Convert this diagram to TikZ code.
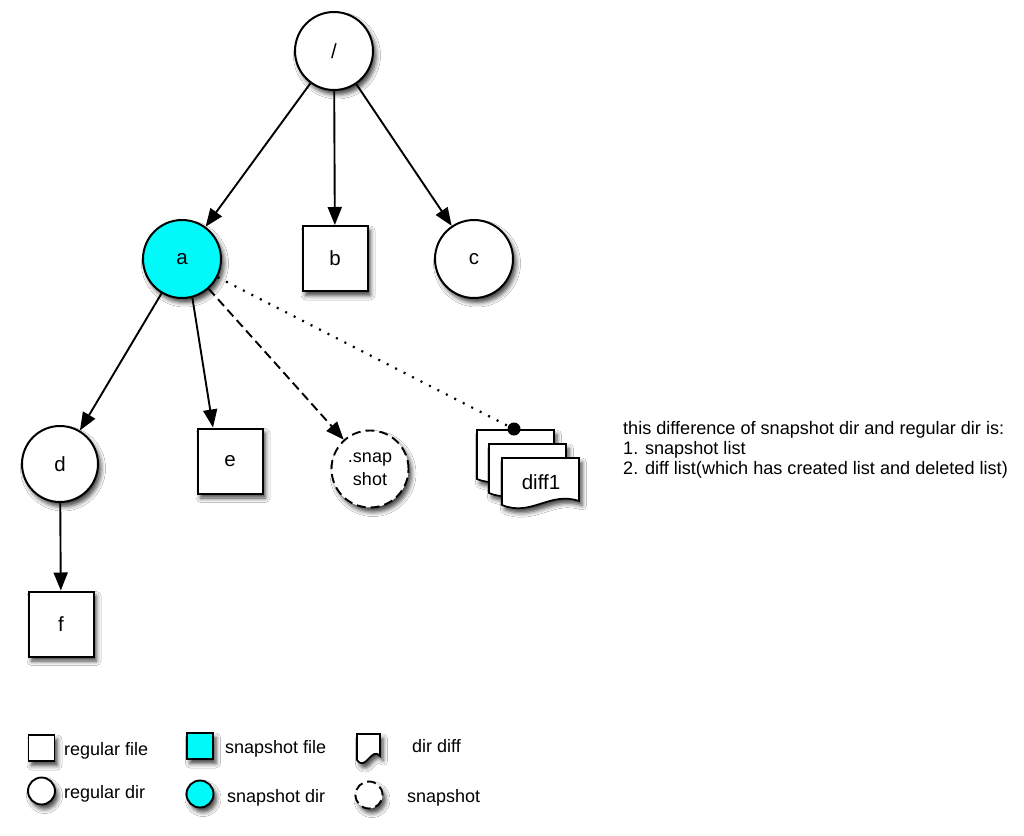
\documentclass[tikz,border=0pt]{standalone}
\usepackage{fontspec}
\setmainfont{Liberation Sans}
\usetikzlibrary{arrows.meta,shadows.blur,calc}
\definecolor{snapcyan}{RGB}{0,250,250}

% a sheet with a wavy lower edge: name, x, y (top left), width, height
\newcommand{\diffsheet}[5]{%
  \draw[sheet] (#2,#3) -- (#2+#4,#3) -- (#2+#4,#3+#5-4)
    .. controls (#2+0.62*#4,#3+#5-14) and (#2+0.38*#4,#3+#5+12) .. (#2,#3+#5) -- cycle;
  \coordinate (#1) at (#2+0.5*#4,#3+0.5*#5);}

\begin{document}
\begin{tikzpicture}[x=1pt,y=-1pt,
  dropsh/.style={blur shadow={shadow xshift=3pt,shadow yshift=-4.5pt,shadow blur radius=4.5pt,shadow opacity=75}},
  lbl/.style={font=\fontsize{20.5}{24}\selectfont},
  dirnode/.style={circle,draw,line width=2pt,fill=white,minimum size=78pt,inner sep=0pt,dropsh,lbl},
  filenode/.style={rectangle,draw,line width=2pt,fill=white,minimum size=65pt,inner sep=0pt,dropsh,lbl},
  snapnode/.style={circle,draw,line width=1.9pt,dash pattern=on 9pt off 5pt,fill=white,minimum size=77pt,inner sep=0pt,dropsh,
    font=\fontsize{18}{23}\selectfont,align=center},
  sheet/.style={draw,line width=1.7pt,fill=white,dropsh},
  arr/.style={line width=1.9pt,-{Triangle[length=18pt,width=14pt,fill=black]}},
  dasharr/.style={arr,dash pattern=on 9pt off 5pt},
  dotline/.style={line width=2.2pt,dash pattern=on 2pt off 7.5pt},
  txt/.style={font=\fontsize{18.1}{20}\selectfont,anchor=base west,inner sep=0pt},
  lgtxt/.style={font=\fontsize{18}{20}\selectfont,anchor=base west,inner sep=0pt},
  lgfile/.style={rectangle,draw,line width=1.9pt,minimum size=26pt,inner sep=0pt,dropsh},
  lgdir/.style={circle,draw,line width=1.9pt,minimum size=27pt,inner sep=0pt,dropsh}
]
\useasboundingbox[fill=white] (0,0) rectangle (1024,835);

% tree
\node[dirnode] (root) at (334,51) {/};
\node[dirnode,fill=snapcyan] (a) at (182,259) {a};
\node[filenode] (b) at (335,258.5) {b};
\node[dirnode] (c) at (474,259) {c};
\node[dirnode,minimum size=76pt] (d) at (60,464) {d};
\node[filenode] (e) at (230,461) {e};
\node[snapnode] (snap) at (370,469) {.snap\\shot};
\node[filenode] (f) at (61,624) {f};

% stacked diff sheets
\diffsheet{s1}{477}{430}{77}{49}
\diffsheet{s2}{489}{444}{77}{49}
\diffsheet{s3}{502}{458}{77}{47}
\node[lbl] (diff) at (541,482) {diff1};
\fill (514,429) circle (6.5pt) coordinate (dot);

% connectors
\draw[arr] (root) -- (a);
\draw[arr] (root) -- (b);
\draw[arr] (root) -- (c);
\draw[arr] (a) -- (d);
\draw[arr] (a.-75) -- ([xshift=-17pt]e.north);
\draw[dasharr] (a) -- (snap);
\draw[dotline] (a) -- (dot);
\draw[arr] (d) -- (f);

% note
\node[txt] (n1) at (623,434) {this difference of snapshot dir and regular dir is:};
\node[txt] (n2) at (623,454) {1. snapshot list};
\node[txt] (n3) at (623,474) {2. diff list(which has created list and deleted list)};

% legend
\node[lgfile,fill=white] (lf) at (41.5,748) {};
\node[lgtxt] (lft) at (64,755) {regular file};
\node[lgdir,fill=white] (ld) at (41.5,791) {};
\node[lgtxt] (ldt) at (64,798) {regular dir};
\node[lgfile,fill=snapcyan] (lsf) at (200,746) {};
\node[lgtxt] (lsft) at (225,753) {snapshot file};
\node[lgdir,fill=snapcyan] (lsd) at (200,794) {};
\node[lgtxt] (lsdt) at (227,802) {snapshot dir};
\diffsheet{ldd}{357}{734}{23}{26}
\node[lgtxt] (lddt) at (412,752) {dir diff};
\node[lgdir,fill=white,dash pattern=on 9pt off 5pt] (ls) at (369,795) {};
\node[lgtxt] (lst) at (407,802) {snapshot};
\end{tikzpicture}
\end{document}
